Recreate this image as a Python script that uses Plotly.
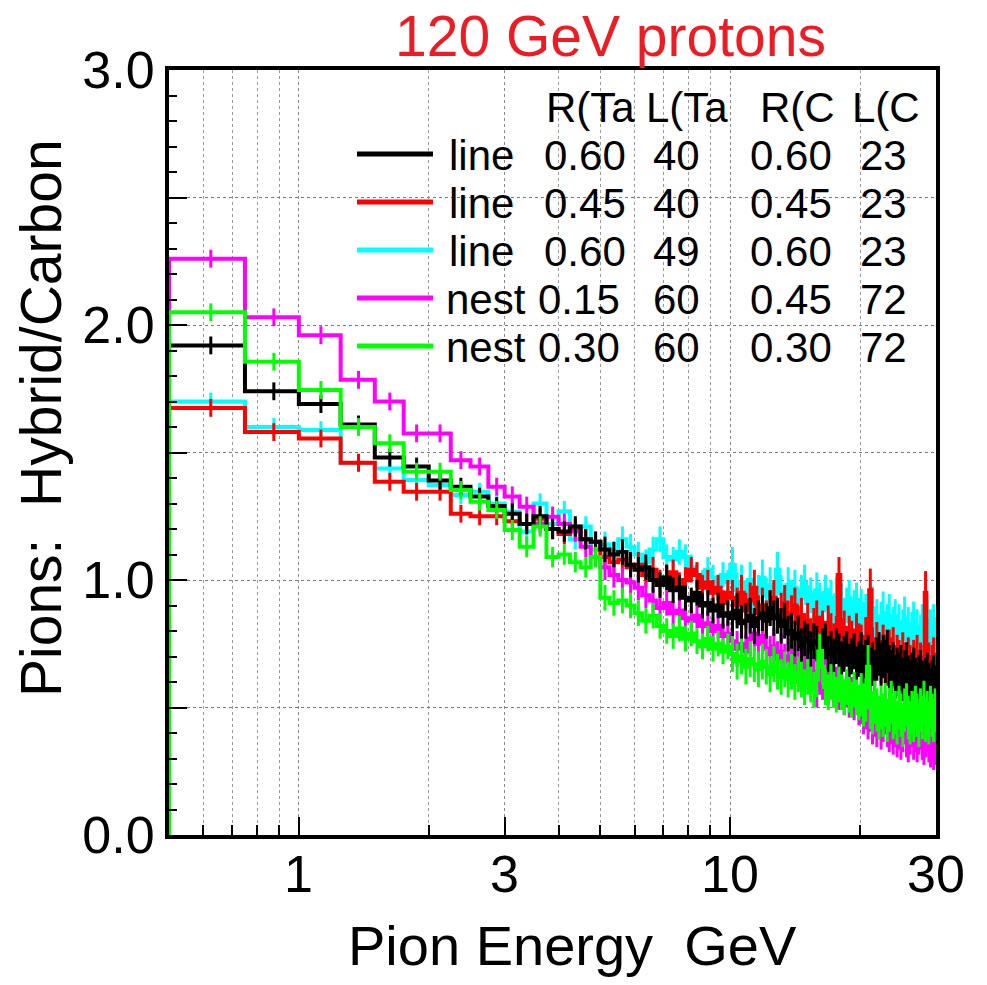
import numpy as np
import plotly.graph_objects as go

# ---------------- data ----------------
E_MIN, E_MAX, BIN_W = 0.5, 30.0, 0.25
BIN_EDGES = np.round(np.arange(E_MIN, E_MAX + BIN_W / 2, BIN_W), 4)   # 0.5 ... 30.0
BIN_CENTERS = 0.5 * (BIN_EDGES[:-1] + BIN_EDGES[1:])

BLACK = [1.92, 1.74, 1.69, 1.61, 1.48, 1.445, 1.39, 1.366, 1.327, 1.29, 1.26, 1.22, 1.25, 1.20,
         1.19, 1.21, 1.16, 1.15, 1.12, 1.10, 1.11, 1.06, 1.04, 1.05, 1.00, 0.98, 1.01, 0.96, 0.97, 0.93,
         0.92, 0.95, 0.90, 0.91, 0.88, 0.90, 0.86, 0.87,
         0.85, 0.88, 0.83, 0.84, 0.86, 0.82, 0.85, 0.87, 0.84, 0.89, 0.85, 0.86, 0.82, 0.84, 0.79, 0.80,
         0.77, 0.79, 0.74, 0.77, 0.76, 0.73, 0.76, 0.75, 0.72, 0.74, 0.76, 0.71, 0.73, 0.70, 0.74, 0.72,
         0.69, 0.71, 0.73, 0.68, 0.70, 0.72, 0.67, 0.69,
         0.71, 0.66, 0.68, 0.70, 0.65, 0.67, 0.64, 0.69, 0.71, 0.67, 0.70, 0.68, 0.72, 0.66, 0.64, 0.67,
         0.62, 0.65, 0.63, 0.66, 0.61, 0.64, 0.67, 0.62, 0.60, 0.63, 0.65, 0.61, 0.59, 0.62, 0.64, 0.60,
         0.58, 0.61, 0.63, 0.59, 0.57, 0.60, 0.62, 0.58]

RED = [1.675, 1.58, 1.555, 1.46, 1.385, 1.346, 1.346, 1.26, 1.25, 1.25, 1.23, 1.22, 1.24, 1.20,
       1.18, 1.20, 1.16, 1.15, 1.09, 1.07, 1.08, 1.05, 1.06, 1.02, 1.04, 0.99, 1.01, 1.03, 0.98, 1.00,
       1.04, 1.02, 0.97, 0.99, 0.95, 0.97, 0.91, 0.95,
       0.93, 0.90, 0.95, 0.88, 0.92, 0.97, 0.87, 0.90, 0.85, 0.89, 0.93, 0.86, 0.88, 0.91, 0.85, 0.87,
       0.90, 0.83, 0.86, 0.80, 0.84, 0.78, 0.82, 0.85, 0.79, 0.81, 0.77, 0.83, 0.80, 0.76, 0.79, 1.02,
       0.78, 0.81, 0.75, 0.79, 0.77, 0.74, 0.80, 0.76,
       0.74, 0.70, 0.77, 0.72, 0.96, 0.73, 0.69, 0.75, 0.71, 0.68, 0.74, 0.70, 0.67, 0.72, 0.69, 0.73,
       0.66, 0.70, 0.68, 0.65, 0.71, 0.67, 0.64, 0.69, 0.66, 0.63, 0.68, 0.65, 0.70, 0.64, 0.67, 0.62,
       0.66, 0.95, 0.64, 0.67, 0.62, 0.66, 0.69, 0.63]

CYAN = [1.70, 1.60, 1.588, 1.458, 1.437, 1.392, 1.373, 1.333, 1.346, 1.30, 1.268, 1.19, 1.30, 1.22,
        1.27, 1.16, 1.21, 1.12, 1.14, 1.10, 1.16, 1.13, 1.10, 1.07, 1.12, 1.16, 1.09, 1.08, 1.11, 1.09,
        1.05, 1.02, 0.99, 1.04, 1.01, 0.97, 1.02, 0.99,
        1.06, 0.96, 0.99, 0.93, 1.00, 0.87, 0.95, 1.01, 0.94, 0.98, 0.92, 1.04, 0.95, 0.91, 0.98, 0.93,
        0.97, 0.90, 0.95, 0.99, 0.91, 0.94, 0.89, 0.96, 0.92, 0.88, 0.95, 0.90, 0.93, 0.87, 0.94, 0.89,
        0.92, 0.86, 0.90, 0.93, 0.85, 0.89, 0.92, 0.86,
        0.88, 0.83, 0.86, 0.81, 0.85, 0.89, 0.80, 0.84, 0.78, 0.83, 0.87, 0.79, 0.82, 0.86, 0.77, 0.81,
        0.84, 0.78, 0.82, 0.76, 0.80, 0.85, 0.77, 0.81, 0.75, 0.79, 0.83, 0.76, 0.80, 0.74, 0.78, 0.82,
        0.75, 0.79, 0.84, 0.76, 0.80, 0.73, 0.82, 0.77]

MAGENTA = [2.26, 2.03, 1.96, 1.785, 1.70, 1.575, 1.575, 1.47, 1.445, 1.366, 1.327, 1.287, 1.222, 1.248,
           1.22, 1.19, 1.13, 1.09, 1.05, 1.02, 1.00, 0.99, 0.97, 0.94, 0.92, 0.89, 0.91, 0.87, 0.88, 0.85,
           0.84, 0.86, 0.82, 0.83, 0.80, 0.82, 0.78, 0.79,
           0.76, 0.73, 0.75, 0.72, 0.77, 0.79, 0.75, 0.78, 0.73, 0.71, 0.74, 0.69, 0.72, 0.68, 0.70, 0.66,
           0.69, 0.65, 0.67, 0.63, 0.66, 0.61, 0.64, 0.57, 0.62, 0.60, 0.63, 0.58, 0.61, 0.57, 0.59, 0.56,
           0.58, 0.54, 0.57, 0.53, 0.55, 0.52, 0.54, 0.50,
           0.52, 0.48, 0.50, 0.46, 0.49, 0.44, 0.47, 0.43, 0.46, 0.42, 0.45, 0.48, 0.43, 0.41, 0.44, 0.40,
           0.43, 0.39, 0.42, 0.38, 0.41, 0.44, 0.39, 0.37, 0.40, 0.43, 0.38, 0.41, 0.37, 0.40, 0.42, 0.38,
           0.36, 0.39, 0.41, 0.37, 0.35, 0.38, 0.34, 0.36]

GREEN = [2.05, 1.856, 1.745, 1.60, 1.536, 1.425, 1.425, 1.353, 1.307, 1.275, 1.196, 1.13, 1.21, 1.09,
         1.10, 1.07, 1.05, 1.09, 0.93, 0.91, 0.92, 0.90, 0.87, 0.84, 0.86, 0.82, 0.80, 0.78, 0.81, 0.77,
         0.79, 0.76, 0.74, 0.77, 0.73, 0.75, 0.72, 0.74,
         0.71, 0.68, 0.70, 0.66, 0.69, 0.67, 0.65, 0.68, 0.66, 0.63, 0.67, 0.64, 0.62, 0.65, 0.61, 0.64,
         0.60, 0.63, 0.61, 0.58, 0.62, 0.59, 0.57, 0.61, 0.72, 0.66, 0.58, 0.56, 0.60, 0.57, 0.55, 0.59,
         0.56, 0.54, 0.58, 0.55, 0.53, 0.57, 0.54, 0.52,
         0.55, 0.51, 0.53, 0.66, 0.50, 0.48, 0.52, 0.49, 0.46, 0.50, 0.47, 0.51, 0.45, 0.49, 0.52, 0.46,
         0.48, 0.44, 0.50, 0.47, 0.43, 0.49, 0.51, 0.46, 0.44, 0.48, 0.45, 0.50, 0.47, 0.43, 0.49, 0.46,
         0.52, 0.45, 0.48, 0.44, 0.50, 0.47, 0.45, 0.49]

# statistical error bar half-lengths, read per energy range (upper edge of range)
ERR_UPPER_E = [3.0, 5.0, 10.0, 20.0, 30.0]
ERR_VALUE = [0.035, 0.04, 0.05, 0.07, 0.085]

# legend table
SERIES = {"black": BLACK, "red": RED, "cyan": CYAN, "magenta": MAGENTA, "green": GREEN}
LEG_ORDER = ["black", "red", "cyan", "magenta", "green"]
LEG_TYPE = ["line", "line", "line", "nest", "nest"]
LEG_R_TA = ["0.60", "0.45", "0.60", "0.15", "0.30"]
LEG_L_TA = ["40", "40", "49", "60", "60"]
LEG_R_C = ["0.60", "0.45", "0.60", "0.45", "0.30"]
LEG_L_C = ["23", "23", "23", "72", "72"]
LEG_HEADER = ["R(Ta", "L(Ta", "R(C", "L(C"]

COLORS = {"black": "#000000", "red": "#ff0000", "cyan": "#00ffff",
          "magenta": "#ff00ff", "green": "#00ff00"}
DRAW_ORDER = ["cyan", "red", "magenta", "black", "green"]

TITLE = "120 GeV protons"
X_TITLE = "Pion Energy  GeV"
Y_TITLE = "Pions:  Hybrid/Carbon"
X_TICKS = [1, 3, 10, 30]
Y_TICKS = [0.0, 0.5, 1.0, 1.5, 2.0, 2.5, 3.0]
Y_TICKTEXT = ["0.0", "", "1.0", "", "2.0", "", "3.0"]

# ---------------- layout geometry ----------------
W_PX, H_PX = 987, 985
L, R, T, B = 169, 936, 70, 835
FONT = "Liberation Sans, Arial, Helvetica, sans-serif"


def fx(p):
    return (p - L) / (R - L)


def fy(p):
    return (B - p) / (B - T)


def err_for(e):
    for up, v in zip(ERR_UPPER_E, ERR_VALUE):
        if e <= up:
            return v
    return ERR_VALUE[-1]


errs = [err_for(c) for c in BIN_CENTERS]

fig = go.Figure()
for name in DRAW_ORDER:
    vals = SERIES[name]
    n = len(vals)
    edges = BIN_EDGES[: n + 1]
    xs = [edges[0]] + list(edges[:-1]) + [edges[-1]]
    ys = [0.0] + list(vals) + [vals[-1]]
    col = COLORS[name]
    fig.add_trace(go.Scatter(x=xs, y=ys, mode="lines", line=dict(color=col, width=4, shape="hv"),
                             showlegend=False, hoverinfo="skip"))
    fig.add_trace(go.Scatter(x=BIN_CENTERS[:n], y=vals, mode="markers",
                             marker=dict(size=1, color=col),
                             error_y=dict(type="data", array=errs[:n], visible=True,
                                          thickness=3, width=0, color=col),
                             showlegend=False, hoverinfo="skip"))

fig.update_xaxes(type="log", range=[np.log10(E_MIN), np.log10(E_MAX)],
                 tickvals=X_TICKS, showticklabels=False,
                 ticks="inside", ticklen=18, tickwidth=2, tickcolor="black",
                 showline=True, linecolor="black", linewidth=4, mirror=True,
                 showgrid=True, gridcolor="#8a8a8a", griddash="dot", gridwidth=1,
                 minor=dict(dtick="D1", ticks="inside", ticklen=10, tickcolor="black",
                            showgrid=True, gridcolor="#9a9a9a", griddash="dot", gridwidth=1),
                 zeroline=False)
fig.update_yaxes(range=[0, 3.0], tickvals=Y_TICKS, ticktext=Y_TICKTEXT,
                 ticks="inside", ticklen=18, tickwidth=2, tickcolor="black",
                 showline=True, linecolor="black", linewidth=4, mirror=True,
                 showgrid=True, gridcolor="#7a7a7a", griddash="dot", gridwidth=1,
                 minor=dict(dtick=0.1, ticks="inside", ticklen=8, tickcolor="black", showgrid=False),
                 tickfont=dict(family=FONT, size=52, color="black"),
                 ticklabelstandoff=0, zeroline=False)

ann = []
shapes = []
# x tick labels (placed on the log axis at the tick values)
for v in X_TICKS:
    ann.append(dict(text=str(v), x=np.log10(v), y=fy(874), xref="x", yref="paper", showarrow=False,
                    xanchor="center", yanchor="middle", font=dict(family=FONT, size=52, color="black")))
# title and axis titles
ann.append(dict(text=TITLE, x=fx(610), y=fy(36), xref="paper", yref="paper", showarrow=False,
                xanchor="center", yanchor="middle", font=dict(family=FONT, size=57, color="#ec1c24")))
ann.append(dict(text=X_TITLE, x=fx(572), y=fy(945), xref="paper", yref="paper", showarrow=False,
                xanchor="center", yanchor="middle", font=dict(family=FONT, size=56, color="black")))
ann.append(dict(text=Y_TITLE, x=fx(41), y=fy(418), xref="paper", yref="paper", showarrow=False,
                textangle=-90, xanchor="center", yanchor="middle",
                font=dict(family=FONT, size=57, color="black")))

# legend header
LEG_FS = 42
header_x = [544, 644, 758, 850]
for txt, xp in zip(LEG_HEADER, header_x):
    ann.append(dict(text=txt, x=fx(xp), y=fy(107), xref="paper", yref="paper", showarrow=False,
                    xanchor="left", yanchor="middle", font=dict(family=FONT, size=LEG_FS, color="black")))

row_y = [155, 203, 251, 299, 347]
for k, name in enumerate(LEG_ORDER):
    yrow = row_y[k]
    shapes.append(dict(type="line", xref="paper", yref="paper", x0=fx(357), x1=fx(433),
                       y0=fy(yrow - 1), y1=fy(yrow - 1), line=dict(color=COLORS[name], width=5)))
    if LEG_TYPE[k] == "line":
        name_x, v1x = 447, 542
    else:
        name_x, v1x = 444, 536
    cells = [(LEG_TYPE[k], name_x), (LEG_R_TA[k], v1x), (LEG_L_TA[k], 651), (LEG_R_C[k], 748), (LEG_L_C[k], 858)]
    for txt, xp in cells:
        ann.append(dict(text=txt, x=fx(xp), y=fy(yrow), xref="paper", yref="paper", showarrow=False,
                        xanchor="left", yanchor="middle",
                        font=dict(family=FONT, size=LEG_FS, color="black")))

fig.update_layout(width=W_PX, height=H_PX, autosize=False,
                  margin=dict(l=L, r=W_PX - R, t=T, b=H_PX - B, pad=0),
                  paper_bgcolor="white", plot_bgcolor="white",
                  annotations=ann, shapes=shapes, showlegend=False)

fig.write_html("out.html")
